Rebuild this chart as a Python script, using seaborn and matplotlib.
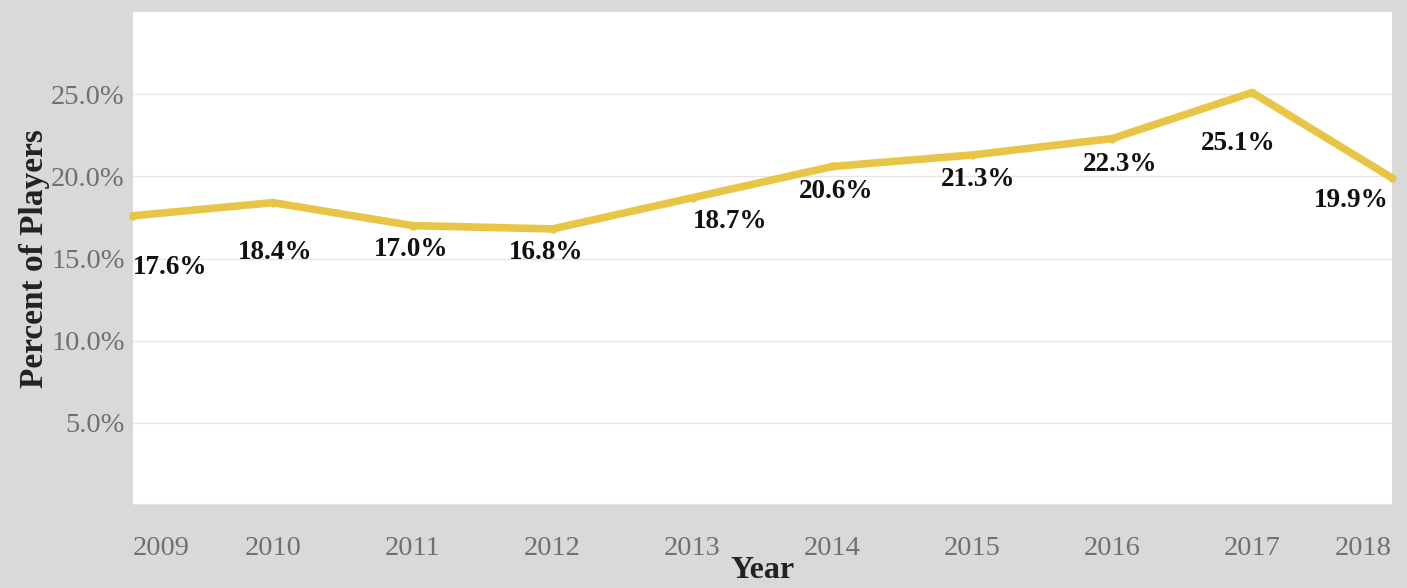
import numpy as np
import pandas as pd
import seaborn as sns
import matplotlib.pyplot as plt
from matplotlib.ticker import PercentFormatter

years = [2009, 2010, 2011, 2012, 2013, 2014, 2015, 2016, 2017, 2018]
pct = [17.6, 18.4, 17.0, 16.8, 18.7, 20.6, 21.3, 22.3, 25.1, 19.9]
# label offsets from each point, in points
label_dx = [27, 2, -1, -5, 27, 3, 4, 6, -10, -29]
label_dy = [-37, -36, -17, -17, -17, -18, -18, -19, -37, -16]

df = pd.DataFrame({"Year": years, "Pct": pct})

sns.set_theme(style="white")
plt.rcParams["font.family"] = ["Liberation Serif", "DejaVu Serif"]

bg = "#d9d9d9"
fig = plt.figure(figsize=(14.07, 5.88), dpi=100, facecolor=bg)
ax = fig.add_axes([133/1407, 1 - 505/588, (1392-133)/1407, (505-12)/588])
ax.set_facecolor("white")

sns.lineplot(data=df, x="Year", y="Pct", ax=ax, color="#e8c547", linewidth=5.5,
             marker="o", markersize=6, markeredgewidth=0, zorder=3, clip_on=False)

for x, y, dx, dy in zip(years, pct, label_dx, label_dy):
    ax.annotate(f"{y:.1f}%", (x, y), xytext=(dx, dy), textcoords="offset points",
                ha="center", va="center", fontsize=19.5, fontweight="bold",
                color="#111111", zorder=4)

ax.set_xlim(2009, 2018)
ax.set_ylim(0, 30)
ax.set_yticks([5, 10, 15, 20, 25])
ax.yaxis.set_major_formatter(PercentFormatter(decimals=1))
ax.set_xticks(years)
ax.grid(axis="y", color="#e6e6e6", linewidth=1)
ax.tick_params(axis="y", labelsize=20.5, labelcolor="#707070", length=0, pad=6)
ax.tick_params(axis="x", labelsize=20.5, labelcolor="#707070", length=0, pad=22)
xl = ax.get_xticklabels()
xl[0].set_ha("left")
xl[-1].set_ha("right")
for s in ax.spines.values():
    s.set_visible(False)
ax.axhline(0, color="#e6e6e6", linewidth=1.5)

ax.set_xlabel("Year", fontsize=23, fontweight="bold", color="#222222", labelpad=-3)
ax.set_ylabel("Percent of Players", fontsize=24, fontweight="bold", color="#222222",
              labelpad=1)

fig.savefig("out.png", dpi=100, facecolor=bg)
